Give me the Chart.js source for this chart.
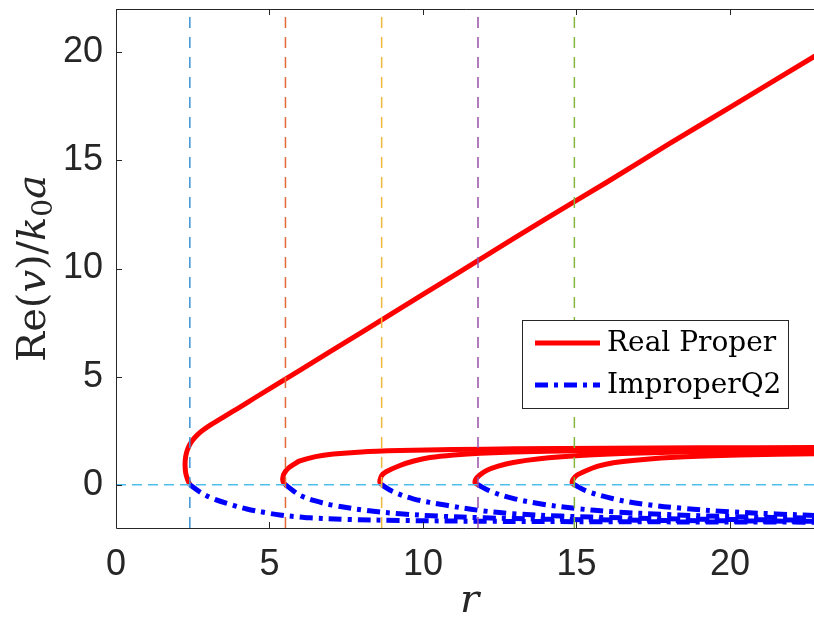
<!DOCTYPE html>
<html>
<head>
<meta charset="utf-8">
<script src="https://cdn.jsdelivr.net/npm/chart.js@4.4.1/dist/chart.umd.min.js"></script>
<style>
  html, body { margin: 0; padding: 0; background: #ffffff; overflow: hidden; }
  #wrap { position: relative; width: 820px; height: 631px; }
</style>
</head>
<body>
<div id="wrap"><canvas id="c" width="820" height="631"></canvas></div>
<script>
// Axis ticks
const xTicks = [0, 5, 10, 15, 20];
const yTicks = [0, 5, 10, 15, 20];

// Cut-off radii (zeros of J0) marked by the vertical dashed lines
const cutoffs = [2.405, 5.520, 8.654, 11.792, 14.931];
const cutoffColors = ['#3a93d4', '#e2683a', '#f0b838', '#9850aa', '#84b640'];

// Real proper branches, [r, Re(v)/k0a]
const properMode1 = [[2.405,0],[2.33,0.25],[2.27,0.55],[2.25,0.89],[2.26,1.2],[2.3,1.5],[2.38,1.8],[2.5,2.07],[2.66,2.32],[2.86,2.55],[3.12,2.8],[3.5,3.13],[4.0,3.56],[4.5,4.0],[6,5.3],[8,7.05],[10,8.8],[12,10.55],[14,12.3],[16,14.0],[18,15.75],[20,17.45],[22.8,19.85]];
const properMode2 = [[5.52,0],[5.45,0.12],[5.43,0.28],[5.47,0.5],[5.6,0.75],[5.8,0.95],[5.99,1.1],[6.5,1.3],[7.08,1.42],[8,1.52],[9.25,1.58],[11,1.63],[13,1.66],[16,1.69],[19,1.71],[22.8,1.72]];
const properMode3 = [[8.654,0],[8.6,0.1],[8.6,0.22],[8.65,0.42],[8.8,0.6],[9.25,0.89],[9.7,1.1],[10.23,1.26],[11.0,1.38],[11.86,1.46],[14.03,1.55],[17,1.62],[20,1.66],[22.8,1.68]];
const properMode4 = [[11.792,0],[11.7,0.08],[11.72,0.25],[11.85,0.45],[12.07,0.66],[12.45,0.86],[12.94,1.03],[13.8,1.2],[15.11,1.35],[16.5,1.44],[18.37,1.51],[20.5,1.57],[22.8,1.62]];
const properMode5 = [[14.931,0],[14.86,0.08],[14.89,0.25],[15.02,0.45],[15.33,0.66],[15.7,0.86],[16.2,1.02],[17.1,1.16],[18.37,1.28],[20.3,1.37],[22.8,1.44]];

// Improper (Q2) branches
const improperMode1 = [[2.405,0],[2.74,-0.34],[3.17,-0.65],[3.82,-0.95],[4.26,-1.12],[4.91,-1.3],[5.34,-1.4],[5.99,-1.49],[6.32,-1.53],[7.5,-1.6],[9.25,-1.65],[12,-1.69],[16,-1.71],[22.8,-1.73]];
const improperMode2 = [[5.52,0],[5.75,-0.25],[5.99,-0.49],[6.5,-0.75],[7.08,-0.95],[8.17,-1.19],[9.25,-1.34],[10.5,-1.45],[12,-1.53],[14,-1.59],[17,-1.64],[20,-1.67],[22.8,-1.69]];
const improperMode3 = [[8.654,0],[9.0,-0.3],[9.68,-0.65],[10.77,-0.95],[11.86,-1.19],[12.94,-1.34],[14.5,-1.45],[16.5,-1.53],[19,-1.59],[22.8,-1.64]];
const improperMode4 = [[11.792,0],[12.2,-0.3],[12.9,-0.62],[13.9,-0.9],[15.0,-1.1],[16.2,-1.25],[18,-1.38],[20,-1.47],[22.8,-1.55]];
const improperMode5 = [[14.931,0],[15.35,-0.3],[16.2,-0.65],[17.2,-0.9],[18.37,-1.08],[20,-1.25],[21.5,-1.35],[22.8,-1.42]];

const X_MIN = 0, X_MAX = 22.77, Y_MIN = -2, Y_MAX = 22;
const AXIS_COLOR = '#262626';
const RED = '#ff0000', BLUE = '#0000ff';
const DASH_DOT = [13, 6, 4, 6];
const SERIF = '"DejaVu Serif", "Liberation Serif", serif';

const toPts = arr => arr.map(([x, y]) => ({ x, y }));

const datasets = [];
// reference lines (drawn on top of the curves)
cutoffs.forEach((r, i) => datasets.push({
  label: 'cutoff ' + (i + 1),
  data: [{ x: r, y: Y_MIN }, { x: r, y: Y_MAX }],
  borderColor: cutoffColors[i], borderWidth: 1.5, borderDash: [11, 9],
  pointRadius: 0, showLine: true, order: 0
}));
datasets.push({
  label: 'zero',
  data: [{ x: X_MIN, y: 0 }, { x: X_MAX, y: 0 }],
  borderColor: '#4DBEEE', borderWidth: 1.5, borderDash: [10, 6],
  pointRadius: 0, showLine: true, order: 0
});
[properMode1, properMode2, properMode3, properMode4, properMode5].forEach(m => datasets.push({
  label: 'Real Proper',
  data: toPts(m), borderColor: RED, borderWidth: 5,
  pointRadius: 0, showLine: true, tension: 0.3, order: 2
}));
[improperMode1, improperMode2, improperMode3, improperMode4, improperMode5].forEach(m => datasets.push({
  label: 'ImproperQ2',
  data: toPts(m), borderColor: BLUE, borderWidth: 5, borderDash: DASH_DOT,
  borderCapStyle: 'butt', pointRadius: 0, showLine: true, tension: 0.35, order: 1
}));

const TICK = 6;
const framePlugin = {
  id: 'frame',
  afterDraw(chart) {
    const { ctx, chartArea: a, scales: { x, y } } = chart;
    ctx.save();
    // axes box (left, bottom, top)
    ctx.strokeStyle = AXIS_COLOR;
    ctx.lineWidth = 1;
    ctx.beginPath();
    ctx.moveTo(a.left + 0.5, a.top + 0.5);
    ctx.lineTo(a.left + 0.5, a.bottom + 0.5);
    ctx.lineTo(a.right + 2, a.bottom + 0.5);
    ctx.moveTo(a.left + 0.5, a.top + 0.5);
    ctx.lineTo(a.right + 2, a.top + 0.5);
    // inward ticks
    xTicks.forEach(v => {
      const px = Math.round(x.getPixelForValue(v)) + 0.5;
      ctx.moveTo(px, a.bottom); ctx.lineTo(px, a.bottom - TICK);
      ctx.moveTo(px, a.top); ctx.lineTo(px, a.top + TICK);
    });
    yTicks.forEach(v => {
      const py = Math.round(y.getPixelForValue(v)) + 0.5;
      ctx.moveTo(a.left, py); ctx.lineTo(a.left + TICK, py);
    });
    ctx.stroke();

    // x title: r
    ctx.fillStyle = AXIS_COLOR;
    ctx.font = 'italic 40px ' + SERIF;
    ctx.textAlign = 'center';
    ctx.textBaseline = 'alphabetic';
    ctx.fillText('r', (a.left + a.right) / 2 + 4, 612);

    // y title: Re(v)/k0a, rotated
    const parts = [
      { t: 'Re(', f: '40px ' + SERIF, dy: 0 },
      { t: 'v', f: 'italic 40px ' + SERIF, dy: 0 },
      { t: ')/', f: '40px ' + SERIF, dy: 0 },
      { t: 'k', f: 'italic 40px ' + SERIF, dy: 0 },
      { t: '0', f: '28px ' + SERIF, dy: 7 },
      { t: 'a', f: 'italic 40px ' + SERIF, dy: 0 }
    ];
    let total = 0;
    parts.forEach(p => { ctx.font = p.f; p.w = ctx.measureText(p.t).width; total += p.w; });
    ctx.translate(45, (a.top + a.bottom) / 2);
    ctx.rotate(-Math.PI / 2);
    ctx.textAlign = 'left';
    let cx = -total / 2;
    parts.forEach(p => { ctx.font = p.f; ctx.fillText(p.t, cx, p.dy); cx += p.w; });
    ctx.restore();

    // legend
    ctx.save();
    const bx = 522.5, by = 320.5, bw = 266, bh = 88;
    ctx.fillStyle = '#ffffff';
    ctx.fillRect(bx, by, bw, bh);
    ctx.strokeStyle = AXIS_COLOR; ctx.lineWidth = 1;
    ctx.strokeRect(bx, by, bw, bh);
    const entries = [chart.data.datasets.find(d => d.label === 'Real Proper'),
                     chart.data.datasets.find(d => d.label === 'ImproperQ2')];
    entries.forEach((d, i) => {
      const ly = 343 + i * 42;
      ctx.strokeStyle = d.borderColor; ctx.lineWidth = d.borderWidth;
      ctx.lineCap = 'butt';
      ctx.setLineDash(d.borderDash || []);
      ctx.beginPath(); ctx.moveTo(535, ly); ctx.lineTo(600, ly); ctx.stroke();
      ctx.setLineDash([]);
      ctx.fillStyle = '#000000';
      ctx.font = '28px ' + SERIF;
      ctx.textAlign = 'left'; ctx.textBaseline = 'middle';
      ctx.fillText(d.label, 607, ly + 1);
    });
    ctx.restore();
  }
};

new Chart(document.getElementById('c'), {
  type: 'scatter',
  data: { datasets },
  options: {
    responsive: false,
    animation: false,
    layout: { padding: { left: 0, right: 5, top: 9, bottom: 0 } },
    plugins: { legend: { display: false }, tooltip: { enabled: false } },
    scales: {
      x: {
        type: 'linear', min: X_MIN, max: X_MAX,
        afterFit: s => { s.height = 103; s.paddingLeft = 0; s.paddingRight = 0; },
        afterBuildTicks: s => { s.ticks = xTicks.map(v => ({ value: v })); },
        grid: { display: false, drawTicks: false },
        border: { display: false },
        ticks: { color: AXIS_COLOR, font: { family: '"Liberation Sans", Arial', size: 36 }, padding: 15, maxRotation: 0 }
      },
      y: {
        type: 'linear', min: Y_MIN, max: Y_MAX,
        afterFit: s => { s.width = 116; s.paddingTop = 0; s.paddingBottom = 0; },
        afterBuildTicks: s => { s.ticks = yTicks.map(v => ({ value: v })); },
        grid: { display: false, drawTicks: false },
        border: { display: false },
        ticks: { color: AXIS_COLOR, font: { family: '"Liberation Sans", Arial', size: 36 }, padding: 13 }
      }
    }
  },
  plugins: [framePlugin]
});
</script>
</body>
</html>
